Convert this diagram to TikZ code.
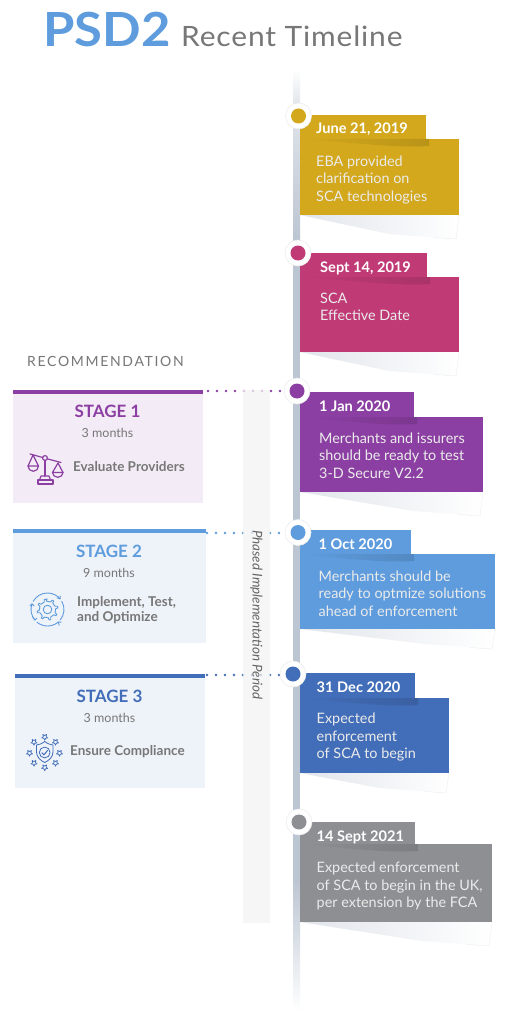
\documentclass[tikz,border=0pt]{standalone}
\usepackage{fontspec}
\setmainfont{Lato}
\usetikzlibrary{calc}
\definecolor{cgold}{HTML}{D3A81C}
\definecolor{cmag}{HTML}{C03A76}
\definecolor{cpur}{HTML}{8C3FA3}
\definecolor{clb}{HTML}{5E9CDD}
\definecolor{cblu}{HTML}{426DB8}
\definecolor{cgry}{HTML}{8E8F93}
\definecolor{cspine}{HTML}{BCC5D2}
\definecolor{ctxt}{HTML}{777777}
\definecolor{cs1}{HTML}{F3EBF5}
\definecolor{cs2}{HTML}{EEF2F9}
\definecolor{cband}{HTML}{F3F3F3}
\tikzset{
  dateT/.style={anchor=base west,inner sep=0pt,text=white,font=\fontsize{14.6}{17}\selectfont\bfseries},
  bodyT/.style={anchor=north west,inner sep=0pt,align=left,text=white!92!black,font=\fontsize{14.4}{17.5}\selectfont,execute at begin node=\strut},
  ring/.style={circle,fill=white,draw=black!7,line width=.6pt,minimum size=26pt,inner sep=0pt,outer sep=0pt},
  dotc/.style={circle,minimum size=15pt,inner sep=0pt,outer sep=0pt},
  dotline/.style={line width=2.6pt,line cap=round,dash pattern=on 0pt off 9pt},
  stageT/.style={anchor=base,inner sep=0pt,font=\fontsize{17}{20}\selectfont\bfseries},
  monT/.style={anchor=base,inner sep=0pt,text=ctxt,font=\fontsize{12.5}{15}\selectfont},
  actT/.style={anchor=base west,inner sep=0pt,align=left,text=ctxt,font=\fontsize{13.5}{15}\selectfont\bfseries},
  ico/.style={line width=1.2pt,line join=round,line cap=round}
}
\newcommand{\foldshadow}[3]{\shade[left color=cspine!45!white,right color=white] (300,#2) -- (#1,#2) -- ($(#1,#2)+(-3,#3)$) -- ($(#1,#2)+(-70,#3-5)$) -- cycle;
\draw[line width=.5pt,draw=cspine!25!white] (#1,#2) -- ($(#1,#2)+(-3,#3)$) -- ($(#1,#2)+(-25,#3-1.5)$);}
\newcommand{\tabshadow}[3]{\shade[left color=#1,right color=#1!88!black] (300,#3) -- (#2+3,#3) -- (#2+3,#3+7) .. controls (#2-30,#3+9) and (#2-70,#3+4) .. cycle;}
\newcommand{\starmark}[2]{\draw[line width=.7pt,line join=round,draw=cblu] ($(#1,#2)+(90:3.2)$) -- ($(#1,#2)+(126:1.5)$) -- ($(#1,#2)+(162:3.2)$) -- ($(#1,#2)+(198:1.5)$) -- ($(#1,#2)+(234:3.2)$) -- ($(#1,#2)+(270:1.5)$) -- ($(#1,#2)+(306:3.2)$) -- ($(#1,#2)+(342:1.5)$) -- ($(#1,#2)+(18:3.2)$) -- ($(#1,#2)+(54:1.5)$) -- cycle;}
\begin{document}
\begin{tikzpicture}[x=1pt,y=-1pt]
\useasboundingbox (0,0) rectangle (509,1024);
\fill[white] (0,0) rectangle (509,1024);
% title
\node[anchor=base west,inner sep=0pt,text=clb,font=\fontsize{47}{50}\selectfont\bfseries\addfontfeature{FakeStretch=1.08}] (title) at (43,47) {PSD2};
\node[anchor=base west,inner sep=0pt,text=ctxt,font=\fontsize{28}{30}\selectfont\addfontfeature{FakeStretch=1.07,LetterSpace=3}] (subtitle) at (181,46.5) {Recent Timeline};
% spine
\shade[top color=white,bottom color=cspine!45!white] (293,69) rectangle (300,105);
\shade[top color=cspine!45!white,bottom color=cspine] (293,105) rectangle (300,240);
\fill[cspine] (293,240) rectangle (300,880);
\shade[top color=cspine,bottom color=white] (293,880) rectangle (300,1012);
% dots
\coordinate (d1) at (208,391);
\coordinate (d2) at (207,533);
\coordinate (d3) at (207,675);
\coordinate (e1) at (297,391);
\coordinate (e2) at (298,533);
\coordinate (e3) at (293,675);
\draw[dotline,draw=cpur] (d1) -- (e1);
\draw[dotline,draw=clb] (d2) -- (e2);
\draw[dotline,draw=cblu] (d3) -- (e3);
% band
\fill[cband,opacity=.75] (243,390) rectangle (270,923);
\node[rotate=-90,inner sep=0pt,text=ctxt!85!black,font=\fontsize{13.4}{15}\selectfont\itshape] (phase) at (256.5,615) {Phased Implementation Period};
% stages
\fill[cs1] (13,393) rectangle (203,503);
\fill[cpur] (13,389.5) rectangle (203,393.5);
\fill[cs2] (13,533) rectangle (206,643);
\fill[clb] (13,529) rectangle (206,533);
\fill[cs2] (15,678) rectangle (205,788);
\fill[cblu] (15,673.5) rectangle (205,678);
\node[anchor=base west,inner sep=0pt,text=ctxt,font=\fontsize{14}{16}\selectfont\addfontfeature{LetterSpace=12}] (rec) at (27,366) {RECOMMENDATION};
\node[stageT,text=cpur] (s1) at (107.5,417.5) {STAGE 1};
\node[monT] (m1) at (107.5,437) {3 months};
\node[actT] (a1) at (73,471.5) {Evaluate Providers};
\node[stageT,text=clb] (s2) at (109,557.5) {STAGE 2};
\node[monT] (m2) at (109,577) {9 months};
\node[anchor=north west,inner sep=0pt,align=left,text=ctxt,font=\fontsize{13.5}{15.4}\selectfont\bfseries,execute at begin node=\strut] (a2) at (77,596) {Implement, Test,\\and Optimize};
\node[stageT,text=cblu] (s3) at (109.5,702.5) {STAGE 3};
\node[monT] (m3) at (109.5,722) {3 months};
\node[actT] (a3) at (70,755) {Ensure Compliance};
% scale icon
\begin{scope}[ico,draw=cpur]
\draw (30,454) -- (42.8,457.5) (47.2,458.8) -- (61,462.5);
\draw (45,458) circle (2.4);
\draw (45,460.5) -- (45,476);
\draw (33,455) -- (28,466) -- (38.5,466) -- cycle;
\draw (28,466) arc[start angle=180,end angle=0,x radius=5.25,y radius=5.3];
\draw (58,463) -- (52.5,472.5) -- (63,472.5) -- cycle;
\draw (52.5,472.5) arc[start angle=180,end angle=0,x radius=5.25,y radius=4.8];
\draw (41,476) -- (49,476) -- (50.5,480) -- (39.5,480) -- cycle;
\draw (38,480) rectangle (53,484);
\end{scope}
% gear icon
\begin{scope}[shift={(47.5,609.5)},ico,draw=clb,line width=.9pt]
\draw (0,-10.5) \foreach \a in {0,45,...,315} {-- ({\a-90-9}:10.5) -- ({\a-90-5}:8.2) -- ({\a-90+22}:8.2) -- ({\a-90+27}:10.5)} -- cycle;
\draw (0,0) circle (4.3);
\draw (-150:16.5) arc[start angle=-150,end angle=-40,radius=16.5];
\draw (-30:16.5) arc[start angle=-30,end angle=40,radius=16.5];
\draw (50:16.5) arc[start angle=50,end angle=130,radius=16.5];
\draw (140:16.5) arc[start angle=140,end angle=200,radius=16.5];
\draw (-40:16.5) -- +(-3,-1) (-40:16.5) -- +(0,-3);
\draw (50:16.5) -- +(3,0) (50:16.5) -- +(1,3);
\draw (140:16.5) -- +(-2,-3) (140:16.5) -- +(2,-2);
\draw (200:16.5) -- +(-2,2) (200:16.5) -- +(2,2);
\end{scope}
% shield icon
\begin{scope}[ico,draw=cblu,line width=.8pt]
\draw (44.7,741.5) .. controls (48,744) and (50,744.5) .. (53,745) -- (53,752) .. controls (53,757) and (49,760.5) .. (44.7,762.5) .. controls (40.5,760.5) and (36.5,757) .. (36.5,752) -- (36.5,745) .. controls (39.5,744.5) and (41.5,744) .. (44.7,741.5) -- cycle;
\draw (44.7,752.5) circle (5.4);
\draw[line width=1pt] (42,752.8) -- (44,754.8) -- (47.5,750.5);
\end{scope}
\starmark{44.7}{737}\starmark{55.5}{742}\starmark{59.5}{753}\starmark{55.5}{763}\starmark{44.7}{767.5}\starmark{34}{763}\starmark{29.5}{753}\starmark{34}{742}
% cards
\foldshadow{459}{215}{24}
\fill[cgold] (300,115) rectangle (426,139);
\fill[cgold] (300,139) rectangle (459,215);
\tabshadow{cgold}{426}{139}
\foldshadow{459}{352}{24}
\fill[cmag] (300,253) rectangle (427,277);
\fill[cmag] (300,277) rectangle (459,352);
\tabshadow{cmag}{427}{277}
\foldshadow{483}{492}{24}
\fill[cpur] (300,392) rectangle (414,417);
\fill[cpur] (300,417) rectangle (483,492);
\tabshadow{cpur}{414}{417}
\foldshadow{495}{629}{20}
\fill[clb] (300,530) rectangle (411,554);
\fill[clb] (300,554) rectangle (495,629);
\tabshadow{clb}{411}{554}
\foldshadow{449}{773}{20}
\fill[cblu] (300,673) rectangle (415,698);
\fill[cblu] (300,698) rectangle (449,773);
\tabshadow{cblu}{415}{698}
\foldshadow{492}{922}{24}
\fill[cgry] (300,822) rectangle (415,844);
\fill[cgry] (300,844) rectangle (492,922);
\tabshadow{cgry}{415}{844}
% circles
\node[ring] (r1) at (298.5,116) {}; \node[dotc,fill=cgold] (c1) at (298.5,116) {};
\node[ring] (r2) at (298,253) {}; \node[dotc,fill=cmag] (c2) at (298,253) {};
\node[ring] (r3) at (297,391) {}; \node[dotc,fill=cpur] (c3) at (297,391) {};
\node[ring] (r4) at (298,532.5) {}; \node[dotc,fill=clb] (c4) at (298,532.5) {};
\node[ring] (r5) at (293,674) {}; \node[dotc,fill=cblu] (c5) at (293,674) {};
\node[ring] (r6) at (299,822) {}; \node[dotc,fill=cgry] (c6) at (299,822) {};
% card text
\node[dateT] (t1) at (316,133.5) {June 21, 2019};
\node[bodyT] (b1) at (316,155.5) {EBA provided\\clarification on\\SCA technologies};
\node[dateT] (t2) at (320,272.5) {Sept 14, 2019};
\node[bodyT] (b2) at (320,292.8) {SCA\\Effective Date};
\node[dateT] (t3) at (319,411.5) {1 Jan 2020};
\node[bodyT] (b3) at (319,432.5) {Merchants and issurers\\should be ready to test\\3-D Secure V2.2};
\node[dateT] (t4) at (318.5,549.5) {1 Oct 2020};
\node[bodyT] (b4) at (318.5,570.5) {Merchants should be\\ready to optmize solutions\\ahead of enforcement};
\node[dateT] (t5) at (316.5,692.5) {31 Dec 2020};
\node[bodyT] (b5) at (316.5,712.8) {Expected\\enforcement\\of SCA to begin};
\node[dateT] (t6) at (316.5,841) {14 Sept 2021};
\node[bodyT] (b6) at (316.5,861.8) {Expected enforcement\\of SCA to begin in the UK,\\per extension by the FCA};
\end{tikzpicture}
\end{document}
